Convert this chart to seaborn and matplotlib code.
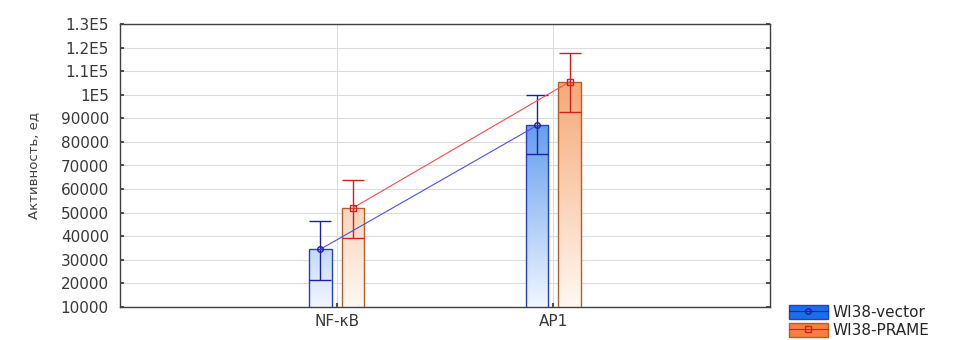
import numpy as np
import pandas as pd
import matplotlib
matplotlib.use('Agg')
import matplotlib.pyplot as plt
import seaborn as sns
from matplotlib.colors import LinearSegmentedColormap
from matplotlib.lines import Line2D
from matplotlib.patches import Patch
from matplotlib.legend_handler import HandlerTuple
from matplotlib.ticker import FixedLocator, FuncFormatter

# ---- данные ----
genes = ['NF-κB', 'AP1']
groups = ['WI38-vector', 'WI38-PRAME']
vector_mean = [34500, 87000]
vector_low = [21500, 75000]
vector_high = [46500, 99800]
prame_mean = [52000, 105500]
prame_low = [39300, 92800]
prame_high = [64000, 117800]
y_ticks = list(range(10000, 130001, 10000))

df = pd.DataFrame({
    'gene': genes * 2,
    'group': [groups[0]] * 2 + [groups[1]] * 2,
    'value': vector_mean + prame_mean,
})

# ---- стиль ----
sns.set_theme(style='whitegrid')
plt.rcParams['font.family'] = ['DejaVu Sans']

edge_cols = ['#2a3fc0', '#b0602a']
top_cols = ['#3d86e8', '#f6a672']
bot_cols = ['#f0f6ff', '#fff8f2']
legend_cols = ['#1a6ee8', '#f8803e']
err_cols = ['#2020a0', '#d02020']
line_cols = ['#5050e0', '#f05050']
markers = ['o', 's']

fig = plt.figure(figsize=(9.73, 3.4), dpi=100)
ax = fig.add_axes([120 / 973, 33 / 340, 650 / 973, 283 / 340])

sns.barplot(data=df, x='gene', y='value', hue='group', order=genes,
            hue_order=groups, width=0.3, gap=0.3, errorbar=None,
            palette=top_cols, legend=False, ax=ax)

means = [vector_mean, prame_mean]
lows = [vector_low, prame_low]
highs = [vector_high, prame_high]

# градиентная заливка столбцов + планки погрешностей
bar_conts = list(ax.containers)
for i, cont in enumerate(bar_conts):
    cmap = LinearSegmentedColormap.from_list('g%d' % i, [bot_cols[i], top_cols[i]])
    xs = []
    for bar in cont:
        x0 = bar.get_x()
        x1 = x0 + bar.get_width()
        xs.append((x0 + x1) / 2)
        bar.set_facecolor('none')
        bar.set_edgecolor(edge_cols[i])
        bar.set_linewidth(1.0)
        bar.set_zorder(3)
        grad = np.linspace(0, 1, 256).reshape(-1, 1)
        im = ax.imshow(grad, extent=[x0, x1, 10000, 108000], aspect='auto',
                       origin='lower', cmap=cmap, zorder=2)
        im.set_clip_path(bar)
    m = np.array(means[i])
    yerr = [m - np.array(lows[i]), np.array(highs[i]) - m]
    ax.errorbar(xs, m, yerr=yerr, fmt='none', ecolor=err_cols[i],
                elinewidth=1.0, capsize=8, capthick=1.0, zorder=5)
    ax.plot(xs, m, color=line_cols[i], lw=0.8, marker=markers[i],
            markersize=4, mfc='none', mec=err_cols[i], mew=1.0, zorder=6)

ax.set_xlim(-1, 2)
ax.set_ylim(10000, 130000)
ax.yaxis.set_major_locator(FixedLocator(y_ticks))
ax.yaxis.set_major_formatter(FuncFormatter(
    lambda v, p: (f'{v / 1e5:g}E5' if v >= 100000 else f'{int(v)}')))

ax.grid(True, color='#dcdcdc', lw=0.8)
ax.set_axisbelow(True)
for s in ax.spines.values():
    s.set_color('#404040')
    s.set_linewidth(1.0)

ax.tick_params(axis='y', labelsize=11, colors='#383838', direction='in',
               length=3, left=True, right=True, pad=8)
ax.tick_params(axis='x', labelsize=11, colors='#383838', direction='in',
               length=3, bottom=True, pad=5)
ax.set_xlabel('')
ax.set_ylabel('Активность, ед', fontsize=9.5, color='#404040', labelpad=15)

handles = []
for i in range(2):
    handles.append((Patch(facecolor=legend_cols[i], edgecolor=edge_cols[i]),
                    Line2D([], [], color=err_cols[i], lw=0.8, marker=markers[i],
                           markersize=4, mfc='none')))
fig.legend(handles, groups,
           handler_map={tuple: HandlerTuple(ndivide=1, pad=0)},
           loc='lower left', bbox_to_anchor=(787 / 973, 0.0), frameon=False,
           fontsize=11, handlelength=2.6, handleheight=1.0, labelspacing=0.2,
           handletextpad=0.3, borderaxespad=0, borderpad=0.1)

fig.savefig('out.png', dpi=100)
